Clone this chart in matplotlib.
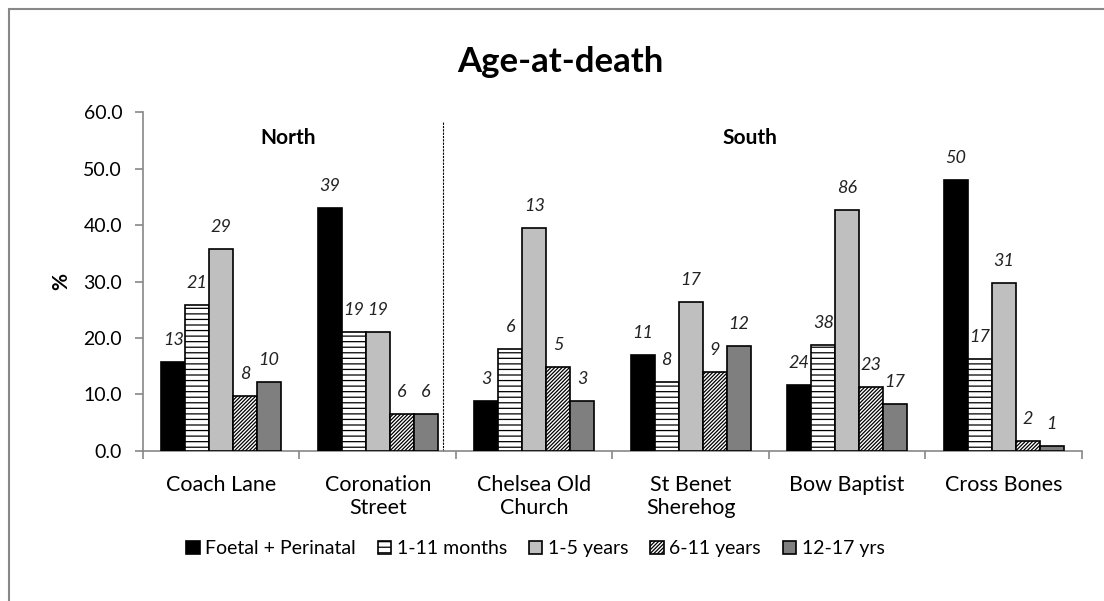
import matplotlib
matplotlib.use("Agg")
import matplotlib.pyplot as plt
import numpy as np
from matplotlib.patches import Rectangle

plt.rcParams['font.family'] = ['Lato', 'DejaVu Sans']
plt.rcParams['hatch.linewidth'] = 0.9

sites = ["Coach Lane", "Coronation\nStreet", "Chelsea Old\nChurch",
         "St Benet\nSherehog", "Bow Baptist", "Cross Bones"]
groups = ["Foetal + Perinatal", "1-11 months", "1-5 years", "6-11 years", "12-17 yrs"]

# percent per age group, one list per site group
foetal = [15.8, 43.1, 8.9, 17.0, 11.6, 47.9]
months = [25.8, 21.0, 18.0, 12.3, 18.8, 16.2]
years_1_5 = [35.7, 21.0, 39.4, 26.4, 42.7, 29.7]
years_6_11 = [9.8, 6.5, 14.9, 13.9, 11.3, 1.8]
yrs_12_17 = [12.3, 6.5, 8.9, 18.5, 8.3, 0.8]

# counts shown above the bars
n_foetal = [13, 39, 3, 11, 24, 50]
n_months = [21, 19, 6, 8, 38, 17]
n_1_5 = [29, 19, 13, 17, 86, 31]
n_6_11 = [8, 6, 5, 9, 23, 2]
n_12_17 = [10, 6, 3, 12, 17, 1]

series = [foetal, months, years_1_5, years_6_11, yrs_12_17]
counts = [n_foetal, n_months, n_1_5, n_6_11, n_12_17]
faces = ["#000000", "#ffffff", "#bfbfbf", "#ffffff", "#7f7f7f"]
hatches = [None, "---", None, "/////////", None]

fig = plt.figure(figsize=(11.04, 6.01), dpi=100)
ax = fig.add_axes([0.1295, 0.2496, 0.8505, 0.564])

x = np.arange(len(sites))
w = 0.153
for i, (vals, cnt) in enumerate(zip(series, counts)):
    pos = x + (i - 2) * w
    ax.bar(pos, vals, w, color=faces[i], edgecolor="black", linewidth=1.2,
           hatch=hatches[i], label=groups[i], zorder=3)
    for px, v, c in zip(pos, vals, cnt):
        ax.annotate(str(c), (px, v), xytext=(0, 22), textcoords="offset pixels",
                    ha="center", va="center", fontsize=13, style="italic",
                    color="#222222")

ax.set_xlim(-0.5, len(sites) - 0.5)
ax.set_ylim(0, 60)
ax.set_yticks(np.arange(0, 61, 10))
ax.set_yticklabels([f"{v:.1f}" for v in np.arange(0, 61, 10)], fontsize=14)
ax.set_xticks(x)
ax.set_xticklabels(sites, fontsize=15.5, linespacing=1.2, va="top")
ax.set_xticks(np.arange(-0.5, len(sites)), minor=True)
ax.tick_params(axis="x", which="major", length=0, pad=17)
ax.tick_params(axis="x", which="minor", length=6, color="#888888", width=1.2)
ax.tick_params(axis="y", length=6, color="#888888", width=1.2, pad=9)

for s in ["top", "right"]:
    ax.spines[s].set_visible(False)
for s in ["left", "bottom"]:
    ax.spines[s].set_color("#888888")
    ax.spines[s].set_linewidth(1.2)

ax.set_ylabel("%", fontsize=15, fontweight="bold", labelpad=9)

ax.plot([1.42, 1.42], [0, 58.2], color="black", lw=0.8,
        linestyle=(0, (2, 1)), zorder=2, clip_on=False)
ax.text(0.43, 55.4, "North", fontsize=15, fontweight="bold", ha="center", va="center")
ax.text(3.38, 55.4, "South", fontsize=15, fontweight="bold", ha="center", va="center")

fig.text(0.508, 0.897, "Age-at-death", fontsize=25, fontweight="bold",
         ha="center", va="center")

fig.legend(loc="center", bbox_to_anchor=(0.485, 0.087), ncol=5, frameon=False,
           fontsize=14, handlelength=0.7, handleheight=0.7, handletextpad=0.3,
           columnspacing=1.1)

fig.patches.append(Rectangle((9 / 1104, -0.1), 1.2, 1.1 - 9 / 601,
                             transform=fig.transFigure, fill=False,
                             edgecolor="#888888", linewidth=1.5))

fig.savefig("out.png", dpi=100)
